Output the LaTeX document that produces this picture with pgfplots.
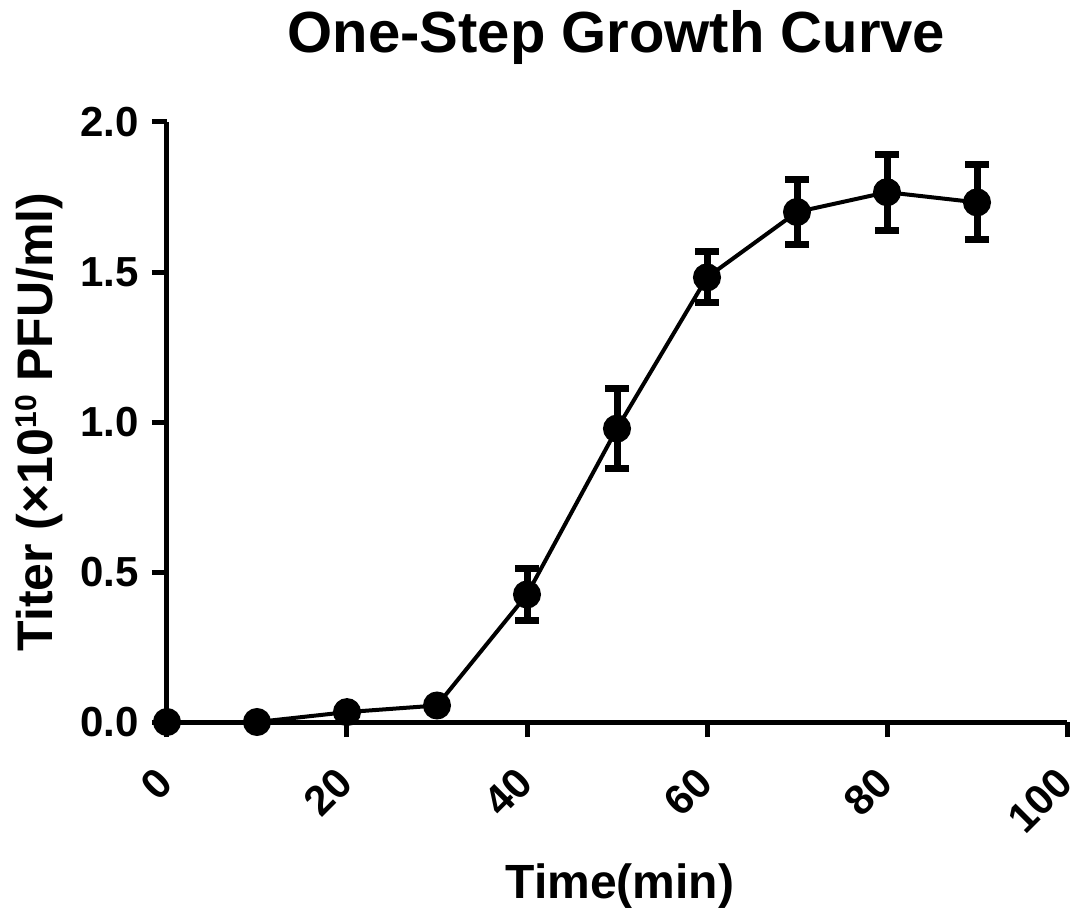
\documentclass[border=0pt]{standalone}
\usepackage{fontspec}
\setmainfont{Liberation Sans}
\usepackage{pgfplots}
\pgfplotsset{compat=1.18}
\pgfplotstableread{
x y
0 0
10 0
20 0.033
30 0.055
40 0.425
50 0.978
60 1.482
70 1.700
80 1.766
90 1.732
}\means
\pgfplotstableread{
x y e
40 0.425 0.087
50 0.978 0.133
60 1.482 0.085
70 1.700 0.110
80 1.766 0.127
90 1.732 0.125
}\errs
\begin{document}
\begin{tikzpicture}
\useasboundingbox (-83.5pt,-97.5pt) rectangle (455pt,361pt);
\begin{axis}[
  at={(0,0)}, anchor=south west,
  scale only axis, width=450pt, height=300pt,
  xmin=0, xmax=100, ymin=0, ymax=2,
  axis x line=bottom, axis y line=left,
  axis line style={-, line width=2.5pt, black},
  tick align=outside, major tick length=7.5pt,
  every tick/.style={line width=2.5pt, black},
  xtick={0,20,...,100}, ytick={0,0.5,1,1.5,2},
  minor tick num=0,
  /pgf/number format/assume math mode=true,
  ticklabel style={font=\bfseries\fontsize{21}{21}\selectfont},
  yticklabel style={anchor=east, inner sep=0pt, xshift=-6.5pt, /pgf/number format/.cd, fixed, fixed zerofill, precision=1},
  xticklabel style={yshift=-19pt, xshift=-1pt, rotate=45, anchor=east, inner sep=0pt},
  clip=false,
]
\addplot[black, line width=2pt, mark=*, mark size=6pt] table[x=x, y=y] {\means};
\addplot[black, draw=none, mark=none, forget plot,
  error bars/.cd, y dir=both, y explicit,
  error bar style={line width=3.5pt, black},
  error mark options={rotate=90, mark size=6pt, line width=3.5pt, black}]
  table[x=x, y=y, y error=e] {\errs};
\end{axis}
\node[anchor=base, font=\bfseries\fontsize{29}{29}\selectfont] at (224.75pt,334.5pt) {One-Step Growth Curve};
\node[anchor=base, font=\bfseries\fontsize{24}{24}\selectfont] at (226.5pt,-88pt) {Time(min)};
\node[anchor=base, rotate=90, font=\bfseries\fontsize{25}{25}\selectfont] at (-57pt,150pt) {Titer (×10\raisebox{0.33em}{\fontsize{15}{15}\selectfont 10} PFU/ml)};
\end{tikzpicture}
\end{document}
